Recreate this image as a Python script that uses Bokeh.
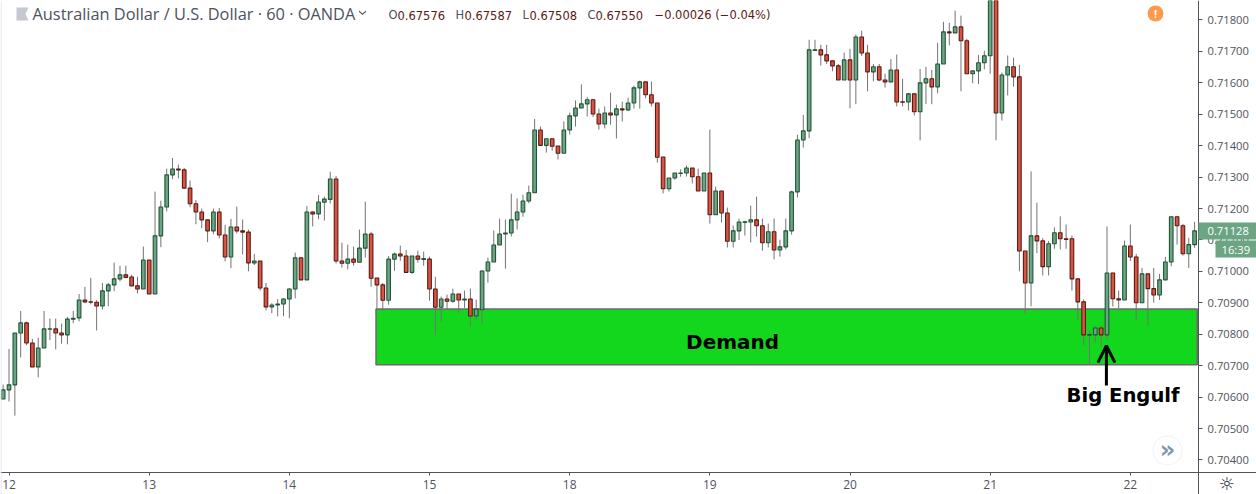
from bokeh.plotting import figure
from bokeh.embed import file_html
from bokeh.resources import INLINE
from bokeh.models import Range1d, FixedTicker, PrintfTickFormatter, Label, BoxAnnotation, PolyAnnotation, Arrow, OpenHead, ColumnDataSource
import numpy as np

# Hourly bars, prices in units of 0.00001
opens = [70594,70623,70639,70804,70836,70772,70696,70756,70816,70817,
70804,70798,70848,70852,70909,70903,70902,70890,70938,70957,
70976,70989,70982,70954,70944,71036,70928,71113,71205,71307,
71326,71323,71265,71215,71189,71164,71129,71189,71116,71046,
71141,71129,71125,71027,71033,70947,70887,70893,70896,70912,
70944,71043,70973,71189,71183,71220,71229,71294,71033,71026,
71039,71029,71074,71119,70979,70957,70908,71039,71055,71049,
70997,71049,71038,71039,70944,70886,70912,70905,70928,70909,
70912,70858,70878,71001,71030,71084,71119,71122,71164,71189,
71224,71250,71450,71401,71422,71399,71376,71450,71495,71520,
71533,71546,71501,71469,71504,71498,71517,71514,71536,71584,
71603,71562,71536,71364,71263,71297,71312,71313,71329,71301,
71256,71313,71180,71256,71186,71096,71129,71156,71157,71164,
71145,71091,71126,71068,71078,71129,71253,71418,71447,71703,
71705,71689,71670,71654,71609,71673,71609,71746,71695,71635,
71651,71609,71603,71641,71540,71539,71565,71508,71600,71613,
71587,71660,71762,71759,71778,71734,71629,71638,71664,71686,
71885,71504,71625,71651,71619,71065,70963,71113,71097,71015,
71088,71123,71104,71104,70976,70903,70797,70798,70820,70798,
70995,70913,70909,71081,71046,70900,70992,70945,70925,70973,
71030,71174,71145,71056,71085]
highs = [70640,70753,70804,70874,70840,70785,70789,70874,70850,70850,
70834,70855,70874,70928,70951,70980,70908,70963,70963,71028,
71018,71018,70989,70983,71079,71036,71254,71225,71327,71361,
71340,71329,71289,71227,71200,71164,71200,71202,71148,71167,
71206,71165,71133,71055,71033,70963,70899,70912,70915,70947,
71060,71043,71208,71192,71243,71238,71317,71304,71091,71085,
71079,71133,71222,71125,70979,70963,71049,71060,71082,71068,
71049,71066,71063,71047,70983,70920,70926,70945,70928,70939,
70945,70910,71004,71044,71130,71168,71165,71247,71232,71244,
71273,71485,71461,71422,71422,71399,71477,71505,71544,71595,
71555,71549,71518,71525,71569,71531,71540,71553,71591,71607,
71603,71604,71536,71364,71297,71313,71325,71337,71329,71327,
71313,71451,71270,71256,71203,71146,71168,71161,71209,71238,
71168,71152,71168,71101,71168,71257,71435,71498,71737,71737,
71721,71721,71670,71660,71696,71708,71754,71766,71721,71660,
71660,71629,71676,71690,71613,71568,71565,71644,71651,71641,
71727,71794,71791,71830,71814,71740,71638,71689,71702,71900,
71900,71633,71687,71680,71657,71065,71318,71219,71106,71097,
71140,71175,71149,71114,70976,70911,70812,70828,70828,71143,
70995,70939,71098,71149,71056,71011,70992,71011,70992,71046,
71174,71174,71151,71107,71158]
lows = [70594,70586,70541,70726,70765,70696,70663,70756,70781,70752,
70770,70768,70835,70841,70899,70895,70812,70879,70889,70937,
70968,70978,70954,70930,70944,70928,70928,71077,71191,71293,
71296,71265,71204,71150,71137,71093,71118,71105,71032,71010,
71121,71054,71000,71020,70939,70876,70867,70857,70857,70851,
70914,70973,70973,71143,71166,71162,71216,71025,71012,71006,
71018,71029,71044,70951,70880,70875,70894,71002,71034,70997,
70992,71028,71018,70907,70797,70840,70880,70900,70867,70884,
70825,70846,70834,70964,71030,71084,71009,71111,71133,71174,
71217,71250,71401,71378,71384,71356,71376,71435,71461,71520,
71493,71491,71451,71455,71467,71423,71477,71510,71518,71518,
71551,71525,71346,71248,71254,71292,71301,71302,71280,71256,
71256,71152,71180,71155,71076,71076,71100,71114,71092,71111,
71066,71076,71038,71047,71070,71117,71235,71394,71424,71701,
71655,71660,71637,71609,71609,71519,71532,71685,71573,71605,
71605,71585,71603,71525,71525,71512,71496,71417,71533,71532,
71567,71660,71719,71759,71573,71629,71599,71596,71643,71629,
71417,71480,71560,71588,71000,70865,70889,71058,70987,70987,
71072,71070,71072,70939,70846,70764,70704,70774,70761,70783,
70888,70883,70909,71033,70846,70900,70828,70900,70909,70973,
71016,71085,71050,71011,71075]
closes = [70623,70639,70804,70836,70772,70696,70756,70817,70817,70804,
70798,70848,70851,70909,70903,70902,70890,70938,70957,70976,
70989,70981,70954,70944,71036,70928,71113,71205,71307,71326,
71323,71265,71215,71189,71164,71129,71189,71116,71046,71141,
71129,71125,71027,71033,70947,70887,70893,70896,70912,70944,
71043,70973,71189,71183,71221,71230,71294,71033,71026,71039,
71029,71074,71119,70978,70957,70908,71039,71055,71049,70997,
71049,71039,71041,70944,70886,70912,70905,70928,70909,70912,
70858,70880,71001,71030,71084,71119,71122,71164,71189,71224,
71250,71450,71401,71422,71398,71376,71450,71495,71520,71533,
71546,71501,71469,71504,71498,71517,71514,71536,71584,71603,
71562,71536,71363,71263,71297,71313,71313,71329,71301,71256,
71313,71180,71256,71186,71096,71129,71157,71158,71164,71145,
71091,71126,71068,71078,71129,71253,71418,71447,71705,71705,
71689,71670,71654,71609,71673,71609,71746,71695,71635,71651,
71609,71603,71641,71539,71538,71565,71508,71600,71613,71587,
71660,71762,71759,71778,71734,71629,71638,71664,71686,71885,
71504,71625,71651,71619,71065,70963,71113,71097,71015,71088,
71123,71104,71102,70976,70903,70798,70799,70820,70798,70995,
70913,70909,71081,71046,70900,70992,70945,70925,70973,71030,
71174,71145,71056,71085,71129]

zone_bars = [63.84, 204.46]
zone_prices = [70703, 70880]
arrow_bar = 188.9
arrow_prices = [70637, 70764]

day_ticks = [1, 25, 49, 73, 97, 121, 145, 169, 193]
day_labels = ["12", "13", "14", "15", "18", "19", "20", "21", "22"]
price_ticks = [0.704, 0.705, 0.706, 0.707, 0.708, 0.709, 0.710, 0.711, 0.712, 0.713, 0.714, 0.715, 0.716, 0.717, 0.718]

UP, DOWN = "#6ba583", "#d75442"
UP_EDGE, DOWN_EDGE = "#225437", "#5b1a13"
WICK = "#737375"
TXT = "#50535e"

n = len(opens)
assert len(highs) == n and len(lows) == n and len(closes) == n, (len(highs), len(lows), len(closes), n)
o, h, l, c = [np.array(a) / 1e5 for a in (opens, highs, lows, closes)]
idx = np.arange(n)
up = c >= o
src = ColumnDataSource(dict(
    x=idx, top=np.maximum(o, c), bottom=np.minimum(o, c), high=h, low=l,
    fill=[UP if u else DOWN for u in up], edge=[UP_EDGE if u else DOWN_EDGE for u in up]))

# the frame fills the page; both axes are pinned inside it, their lines run to the page edges
p = figure(width=1256, height=494, output_backend="svg", toolbar_location=None,
           x_range=Range1d(-0.457, 214.6), y_range=Range1d(0.70290, 0.71862),
           y_axis_location="right", min_border_left=0, min_border_top=0,
           min_border_right=0, min_border_bottom=0,
           background_fill_color="white", border_fill_color="white", outline_line_color=None)
p.grid.visible = False
p.xaxis[0].fixed_location = 0.703606
p.yaxis[0].fixed_location = 204.68

for ax in (p.xaxis[0], p.yaxis[0]):
    ax.axis_line_color = TXT
    ax.major_tick_line_color = TXT
    ax.minor_tick_line_color = None
    ax.major_tick_in = 0
    ax.major_label_text_color = TXT
    ax.major_label_text_font = "Open Sans"
    ax.major_label_text_font_size = "11.2px"
p.xaxis[0].major_label_text_font_size = "12px"
p.xaxis[0].major_tick_out = 3
p.yaxis[0].major_tick_out = 4
p.xaxis[0].major_label_standoff = 5
p.yaxis[0].major_label_standoff = 5
p.xaxis[0].ticker = FixedTicker(ticks=day_ticks)
p.xaxis[0].major_label_overrides = dict(zip(day_ticks, day_labels))
p.yaxis[0].ticker = FixedTicker(ticks=price_ticks)
p.yaxis[0].formatter = PrintfTickFormatter(format="%.5f")

p.quad(left=zone_bars[0], right=zone_bars[1], bottom=zone_prices[0] / 1e5, top=zone_prices[1] / 1e5,
       fill_color="#13d71c", line_color="#6b6b6b", line_width=1.5)
p.segment("x", "high", "x", "low", source=src, line_color=WICK, line_width=1)
p.vbar(x="x", top="top", bottom="bottom", width=0.62, source=src,
       fill_color="fill", line_color="edge", line_width=1.1)

p.add_layout(Arrow(end=OpenHead(size=17, line_width=3, line_color="black"),
                   x_start=arrow_bar, y_start=arrow_prices[0] / 1e5,
                   x_end=arrow_bar, y_end=arrow_prices[1] / 1e5,
                   line_width=3, line_color="black"))
p.add_layout(Label(x=124.9, y=0.70774, text="Demand", text_font="DejaVu Sans", text_font_style="bold",
                   text_font_size="20px", text_color="black", text_align="center", text_baseline="middle"))
p.add_layout(Label(x=191.75, y=0.70605, text="Big Engulf", text_font="DejaVu Sans", text_font_style="bold",
                   text_font_size="19.6px", text_color="black", text_align="center", text_baseline="middle"))


def box(l_, t, r, b, color, radius=0, line=None):
    p.add_layout(BoxAnnotation(left=l_, right=r, top=t, bottom=b,
                               left_units="canvas", right_units="canvas", top_units="canvas", bottom_units="canvas",
                               fill_color=color, fill_alpha=1, line_color=line, line_alpha=1,
                               border_radius=radius, level="annotation", editable=False))


def poly(xs, ys, color):
    p.add_layout(PolyAnnotation(xs=xs, ys=ys, xs_units="canvas", ys_units="canvas",
                                fill_color=color, fill_alpha=1, line_color=None, level="annotation", editable=False))


def txt(x, y, s, size, color, font="Open Sans", align="left", style="normal"):
    p.add_layout(Label(x=x, y=y, x_units="canvas", y_units="canvas", text=s, text_font=font,
                       text_font_size=size, text_color=color, text_align=align, text_baseline="middle",
                       text_font_style=style, level="annotation"))


# left rule
box(0, 0, 1, 494, "#e0e3eb")

# legend line
poly([16, 28, 25, 28, 16], [7, 7, 13.5, 20, 20], "#c5c8d0")
txt(32, 13.5, "Australian Dollar / U.S. Dollar · 60 · OANDA", "16.35px", "#4c525e")
poly([358.5, 362, 365.5, 365.5, 362, 358.5], [10, 13, 10, 11.5, 14.5, 11.5], "#4c525e")
NUM = DOWN_EDGE
for xl, xv, lab, val in [(388, 397, "O", "0.67576"), (455, 464, "H", "0.67587"), (522, 529, "L", "0.67508"), (587, 595, "C", "0.67550")]:
    txt(xl, 14.5, lab, "11.5px", "#4c525e", font="DejaVu Sans")
    txt(xv, 14.5, val, "11.5px", NUM, font="DejaVu Sans")
txt(654, 14.5, "−0.00026 (−0.04%)", "11.5px", NUM, font="DejaVu Sans")

# last price tags
box(1198, 222, 1256, 239, UP)
txt(1207, 230.5, "0.71128", "11.2px", "white")
box(1215, 240, 1256, 257, UP)
txt(1221, 248.5, "16:39", "11.2px", "white")

# alert badge, scroll button, settings glyph
box(1147, 5, 1163, 21, "#ff9a4d", radius=8)
txt(1155, 13, "!", "11px", "white", align="center", style="bold")
box(1152, 435, 1182, 465, "#f1f2f5", radius=15)
box(1153, 436, 1181, 464, "white", radius=14)
txt(1167, 449, "»", "24px", "#7d97b0", font="DejaVu Sans", align="center", style="bold")
txt(1226, 482.5, "☼", "18px", "#2a2e39", font="DejaVu Sans", align="center")

open("out.html", "w").write(file_html(p, INLINE))
